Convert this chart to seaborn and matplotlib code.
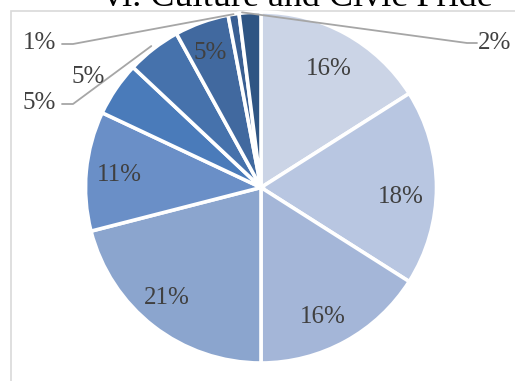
import numpy as np
import matplotlib
matplotlib.use("Agg")
import matplotlib.pyplot as plt
import seaborn as sns
from matplotlib.patches import Rectangle

# ---- data ----
title = "vi. Culture and Civic Pride"
values = [16, 18, 16, 21, 11, 5, 5, 5, 1, 2]
labels = ["16%", "18%", "16%", "21%", "11%", "5%", "5%", "5%", "1%", "2%"]
colors = ["#CBD4E6", "#B8C6E1", "#A4B6D8", "#8BA5CE", "#6A8FC7",
          "#4A7BBA", "#4672AC", "#41699F", "#3A5F92", "#2F5583"]

sns.set_theme(style="white")
plt.rcParams['font.family'] = ['Liberation Serif', 'DejaVu Serif']

W, H = 515, 381
fig = plt.figure(figsize=(W / 100, H / 100), dpi=100)
ax = fig.add_axes([0, 0, 1, 1])

cx, cy, R = 261, H - 187.5, 175.5
wedges, _ = ax.pie(values, colors=sns.color_palette(colors), startangle=90,
                   counterclock=False, center=(cx, cy), radius=R,
                   wedgeprops=dict(edgecolor="white", linewidth=2.6),
                   frame=True)
ax.set_xlim(0, W)
ax.set_ylim(0, H)
ax.set_aspect("equal")
ax.axis("off")

# chart border (extends beyond the image on right/bottom)
ax.add_patch(Rectangle((11, -20), W + 40, (H - 11) + 20, fill=False,
                       edgecolor="#D9D9D9", linewidth=1.2, zorder=0))

txt_color = "#404040"
fs = 18
# label placement: (radius factor, angle offset in degrees)
place = {0: (0.78, -1.0), 1: (0.80, -3.7), 2: (0.82, -3.3), 3: (0.825, -2.7),
         4: (0.81, 0.2), 5: (1.17, 1.7), 7: (0.82, 0.9)}
for i, w in enumerate(wedges):
    if i in place:
        f, d = place[i]
        m = np.deg2rad((w.theta1 + w.theta2) / 2 + d)
        ax.text(cx + R * f * np.cos(m), cy + R * f * np.sin(m), labels[i],
                ha="center", va="center", fontsize=fs, color=txt_color)

def mid_pt(i, f=1.0):
    w = wedges[i]
    m = np.deg2rad((w.theta1 + w.theta2) / 2)
    return cx + R * f * np.cos(m), cy + R * f * np.sin(m)

lc = "#A6A6A6"
# 5% (second) with leader
sx, sy = mid_pt(6, 1.02)
ax.plot([sx, 73, 62], [sy, H - 104, H - 104], color=lc, lw=1.3)
ax.text(56, H - 103, labels[6], ha="right", va="center", fontsize=fs, color=txt_color)
# 1% with leader
sx, sy = mid_pt(8, 1.0)
ax.plot([sx, 73, 62], [sy, H - 44, H - 44], color=lc, lw=1.3)
ax.text(56, H - 43, labels[8], ha="right", va="center", fontsize=fs, color=txt_color)
# 2% with leader
sx, sy = mid_pt(9, 1.0)
ax.plot([sx - 8, 467, 477], [sy, H - 43, H - 43], color=lc, lw=1.3)
ax.text(478, H - 43, labels[9], ha="left", va="center", fontsize=fs, color=txt_color)

# title (cut off at top, as in the reference)
ax.text(298, H - 6, title, ha="center", va="baseline", fontsize=26, color="black")

fig.savefig("out.png", dpi=100)
